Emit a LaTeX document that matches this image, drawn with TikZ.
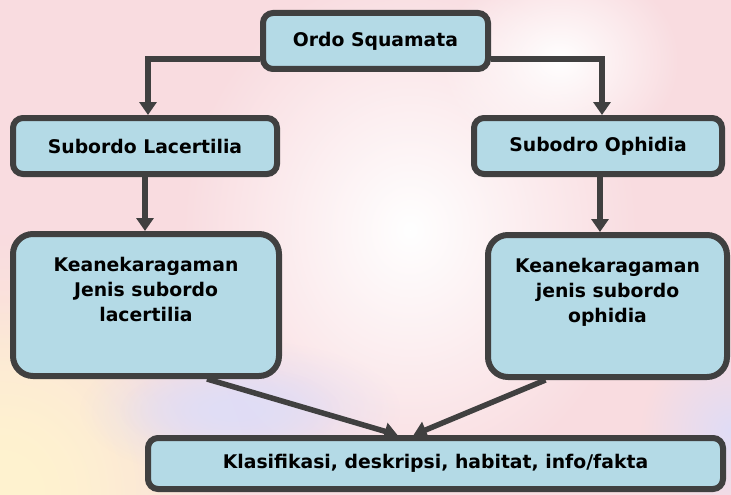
\documentclass[tikz,border=0pt]{standalone}
\usepackage{fontspec}
\setmainfont{DejaVu Sans}
\usetikzlibrary{arrows.meta,fadings}
\definecolor{boxfill}{HTML}{B4DAE6}
\definecolor{boxline}{HTML}{404040}
\definecolor{bgpink}{HTML}{F9DCE0}
\definecolor{bgyellow}{HTML}{FFF3CF}
\definecolor{bglav}{HTML}{E0DDF6}
\tikzfading[name=blobfade,inner color=transparent!0,outer color=transparent!100]

\begin{document}
\begin{tikzpicture}[x=1pt,y=-1pt,line width=5.5pt,
  taxon/.style={draw=boxline,fill=boxfill,line width=6pt,rounded corners=10pt,
    minimum height=56pt,inner sep=0pt,font=\fontsize{18.8}{25}\selectfont\bfseries},
  bigtaxon/.style={taxon,rounded corners=20pt,minimum height=142pt},
  link/.style={draw=boxline,-{Triangle[length=13pt,width=17pt]}}]
\useasboundingbox (0,0) rectangle (731,495);
\begin{scope}
\clip (0,0) rectangle (731,495);
\fill[bgpink] (0,0) rectangle (731,495);
\fill[white,path fading=blobfade] (410,230) ellipse (230 and 260);
\fill[white,path fading=blobfade] (560,60) ellipse (120 and 100);
\fill[bgyellow,path fading=blobfade] (0,495) ellipse (260 and 260);
\fill[bgyellow,path fading=blobfade] (0,495) ellipse (180 and 200);
\fill[bglav,path fading=blobfade] (240,410) ellipse (160 and 70);
\fill[bglav,path fading=blobfade] (230,410) ellipse (110 and 45);
\fill[bglav,path fading=blobfade] (731,430) ellipse (90 and 90);
\end{scope}

\node[taxon,minimum width=225pt] (ordo) at (375.5,41) {Ordo Squamata};
\node[taxon,minimum width=264pt] (lacer) at (145,146) {Subordo Lacertilia};
\node[taxon,minimum width=248pt] (ophidia) at (598,146) {Subodro Ophidia};
\node[bigtaxon,minimum width=266pt] (keanL) at (146,305)
  {\begin{tabular}{@{}c@{}}Keanekaragaman\\Jenis subordo\\lacertilia\\[27pt]\end{tabular}};
\node[bigtaxon,minimum width=239pt] (keanR) at (607.5,306)
  {\begin{tabular}{@{}c@{}}Keanekaragaman\\jenis subordo\\ophidia\\[27pt]\end{tabular}};
\node[taxon,minimum width=575pt,minimum height=51pt] (klas) at (435.5,463.5)
  {Klasifikasi, deskripsi, habitat, info/fakta};

\draw[link] ([yshift=13pt]ordo.south west) -| ([xshift=3pt]lacer.north);
\draw[link] ([yshift=13pt]ordo.south east) -| ([xshift=4pt]ophidia.north);
\draw[link] (lacer.south) -- (lacer.south |- keanL.north);
\draw[link] ([xshift=2pt]ophidia.south) -- ([xshift=2pt]ophidia.south |- keanR.north);
\draw[link] ([xshift=61pt]keanL.south) -- ([xshift=-38pt]klas.north);
\draw[link] ([xshift=-62pt]keanR.south) -- ([xshift=-22pt]klas.north);
\end{tikzpicture}
\end{document}
